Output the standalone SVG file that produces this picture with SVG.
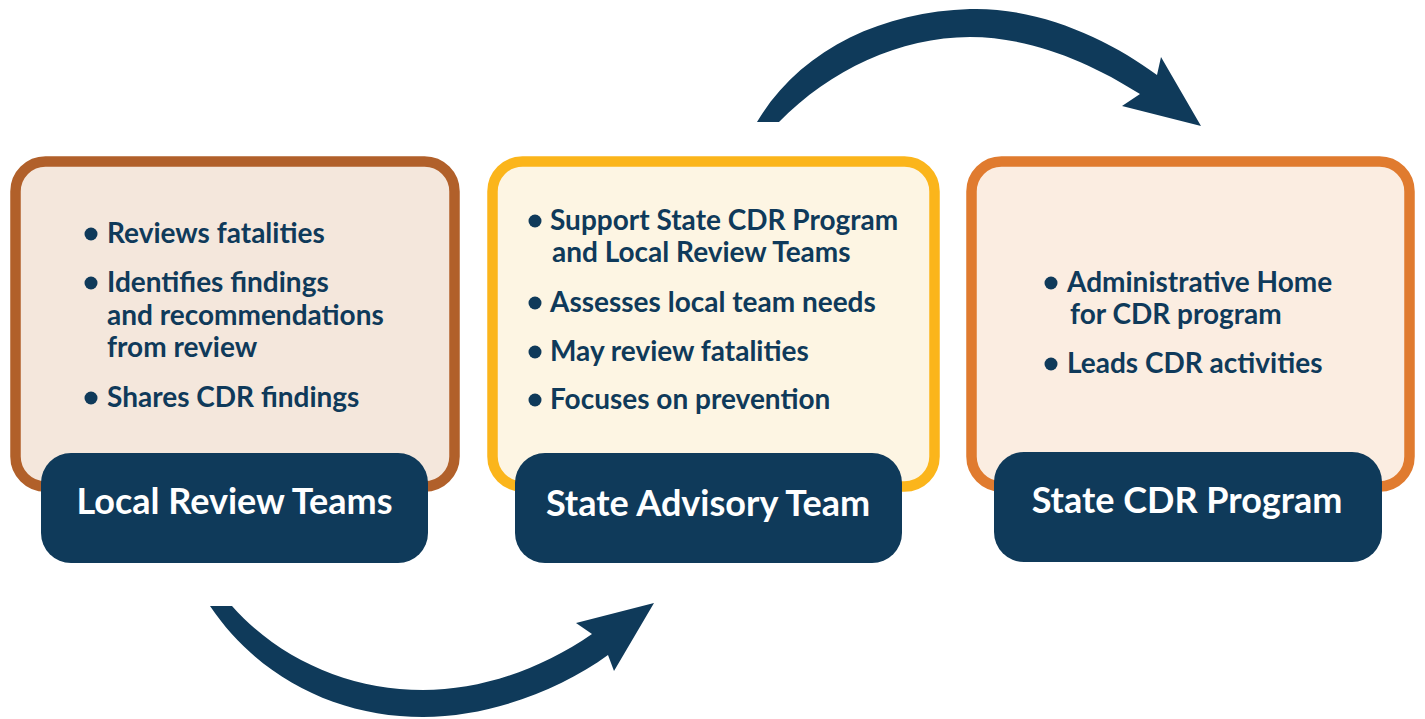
<svg xmlns="http://www.w3.org/2000/svg" width="1425" height="719" viewBox="0 0 1425 719">
<style>
.card{stroke-width:10.5}
.lbl{fill:#0f3a5a}
.lt{font-family:Lato,"Liberation Sans",sans-serif;font-weight:700;font-size:36px;fill:#ffffff;text-anchor:middle}
.bt{font-family:Lato,"Liberation Sans",sans-serif;font-weight:700;font-size:28px;fill:#0f3a5a}
.dot{fill:#0f3a5a}
.arr{fill:#0f3a5a}
</style>
<rect width="1425" height="719" fill="#ffffff"/>
<g id="connectors">
<path class="arr" d="M757,122 C800,50 880,12 970,9 C1040,7 1110,40 1157,75 L1161,57 L1201,126 L1122,106 L1140,94 C1090,62 1030,37 970,37 C900,37 830,70 779,122 Z"/>
<path class="arr" d="M210,606 C260,680 340,717 423,717 C490,717 560,690 608,655 L614,671 L654,603 L576,623 L592,634 C540,670 480,690 423,690 C350,690 280,660 232,606 Z"/>
</g>
<g id="local-review-teams">
<rect class="card" x="15.5" y="161.5" width="439" height="325" rx="30" fill="#f4e7dc" stroke="#b1602a"/>
<circle class="dot" cx="91" cy="234" r="6.5"/>
<text class="bt" x="107" y="243">Reviews fatalities</text>
<circle class="dot" cx="91" cy="283" r="6.5"/>
<text class="bt" x="107" y="292">Identifies findings</text>
<text class="bt" x="107" y="325">and recommendations</text>
<text class="bt" x="107" y="357">from review</text>
<circle class="dot" cx="91" cy="398" r="6.5"/>
<text class="bt" x="107" y="407">Shares CDR findings</text>
<rect class="lbl" x="41" y="453" width="387" height="110" rx="30"/>
<text class="lt" x="234.5" y="514">Local Review Teams</text>
</g>
<g id="state-advisory-team">
<rect class="card" x="492.5" y="161.5" width="442" height="325" rx="30" fill="#fdf5e3" stroke="#fbb51b"/>
<circle class="dot" cx="535" cy="221" r="6.5"/>
<text class="bt" x="550" y="230">Support State CDR Program</text>
<text class="bt" x="552" y="262">and Local Review Teams</text>
<circle class="dot" cx="535" cy="303" r="6.5"/>
<text class="bt" x="550" y="312">Assesses local team needs</text>
<circle class="dot" cx="535" cy="352" r="6.5"/>
<text class="bt" x="550" y="361">May review fatalities</text>
<circle class="dot" cx="535" cy="400" r="6.5"/>
<text class="bt" x="550" y="409">Focuses on prevention</text>
<rect class="lbl" x="515" y="453" width="387" height="110" rx="30"/>
<text class="lt" x="708" y="516">State Advisory Team</text>
</g>
<g id="state-cdr-program">
<rect class="card" x="971.5" y="161.5" width="438" height="325" rx="30" fill="#fbede1" stroke="#e07b2f"/>
<circle class="dot" cx="1051" cy="283" r="6.5"/>
<text class="bt" x="1067" y="292">Administrative Home</text>
<text class="bt" x="1070" y="324">for CDR program</text>
<circle class="dot" cx="1051" cy="364" r="6.5"/>
<text class="bt" x="1067" y="373">Leads CDR activities</text>
<rect class="lbl" x="994" y="452" width="388" height="110" rx="30"/>
<text class="lt" x="1187" y="513">State CDR Program</text>
</g>
</svg>
